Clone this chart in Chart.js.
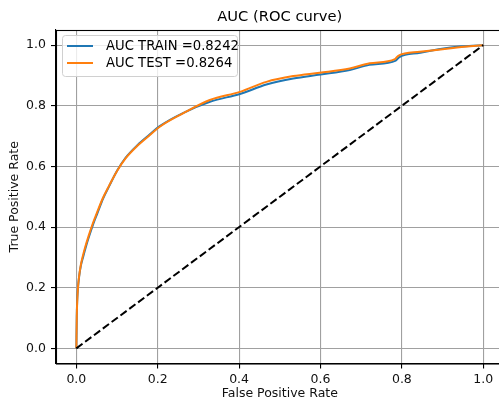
<!DOCTYPE html>
<html>
<head>
<meta charset="utf-8">
<script src="https://cdn.jsdelivr.net/npm/chart.js@4"></script>
<style>
  html, body { margin: 0; padding: 0; background: #fff; overflow: hidden; }
  #wrap { position: relative; width: 506px; height: 402px; }
</style>
</head>
<body>
<div id="wrap"><canvas id="roc"></canvas></div>
<script>
// values
const chartTitle = 'AUC (ROC curve)';
const trainLabel = 'AUC TRAIN =0.8242';
const testLabel = 'AUC TEST =0.8264';

const fprTrain = [0, 0.001, 0.002, 0.004, 0.007, 0.011, 0.017, 0.023, 0.031, 0.041, 0.051, 0.066, 0.081, 0.100, 0.120, 0.150, 0.180, 0.205, 0.262, 0.330, 0.402, 0.467, 0.533, 0.600, 0.672, 0.720, 0.785, 0.793, 0.845, 0.920, 1.0];
const tprTrain = [0, 0.105, 0.155, 0.200, 0.238, 0.272, 0.303, 0.333, 0.368, 0.408, 0.443, 0.495, 0.536, 0.586, 0.627, 0.670, 0.705, 0.733, 0.776, 0.814, 0.839, 0.870, 0.890, 0.903, 0.918, 0.935, 0.949, 0.960, 0.975, 0.992, 1.0];

const fprTest = [0, 0.001, 0.002, 0.004, 0.007, 0.011, 0.016, 0.022, 0.030, 0.040, 0.050, 0.065, 0.080, 0.100, 0.120, 0.150, 0.180, 0.205, 0.262, 0.328, 0.402, 0.467, 0.533, 0.598, 0.672, 0.721, 0.783, 0.791, 0.844, 0.926, 1.0];
const tprTest = [0, 0.100, 0.150, 0.200, 0.240, 0.275, 0.305, 0.335, 0.370, 0.410, 0.445, 0.495, 0.535, 0.585, 0.625, 0.668, 0.703, 0.731, 0.775, 0.819, 0.846, 0.879, 0.898, 0.909, 0.923, 0.940, 0.954, 0.965, 0.978, 0.991, 1.0];

const chanceX = [0, 1];
const chanceY = [0, 1];

const tickValues = [0, 0.2, 0.4, 0.6, 0.8, 1.0];

const FONT = "'DejaVu Sans', sans-serif";
const BLUE = '#1f77b4';
const ORANGE = '#ff7f0e';
const GRID = '#a0a0a0';

function toPoints(xs, ys) {
  return xs.map((x, i) => ({ x, y: ys[i] }));
}

function fixedTicks(scale) {
  scale.ticks = tickValues.map((v) => ({ value: v }));
}

// matplotlib-style frame, title centred on the axes, legend box inside
const frameAndLegend = {
  id: 'frameAndLegend',
  afterDraw(chart) {
    const { ctx, chartArea } = chart;
    ctx.save();
    ctx.strokeStyle = '#000';
    ctx.lineWidth = 1.1;
    ctx.strokeRect(chartArea.left + 0.5, chartArea.top + 0.5, chartArea.right - chartArea.left, chartArea.bottom - chartArea.top);

    ctx.font = `14.7px ${FONT}`;
    ctx.fillStyle = '#000';
    ctx.textAlign = 'center';
    ctx.textBaseline = 'middle';
    ctx.fillText(chartTitle, (chartArea.left + chartArea.right) / 2, 17);

    const bx = 62, by = 35, bw = 175, bh = 41;
    ctx.beginPath();
    ctx.roundRect(bx + 0.5, by + 0.5, bw, bh, 3);
    ctx.fillStyle = 'rgba(255,255,255,0.8)';
    ctx.fill();
    ctx.strokeStyle = '#d0d0d0';
    ctx.lineWidth = 1;
    ctx.stroke();

    const entries = [
      { label: trainLabel, color: BLUE, y: 46 },
      { label: testLabel, color: ORANGE, y: 63 },
    ];
    ctx.font = `13.2px ${FONT}`;
    ctx.textAlign = 'left';
    entries.forEach((e) => {
      ctx.beginPath();
      ctx.moveTo(67, e.y);
      ctx.lineTo(93, e.y);
      ctx.strokeStyle = e.color;
      ctx.lineWidth = 2;
      ctx.stroke();
      ctx.fillStyle = '#000';
      ctx.fillText(e.label, 106, e.y + 0.5);
    });
    ctx.restore();
  },
};

const lineStyle = {
  showLine: true,
  fill: false,
  pointRadius: 0,
  borderWidth: 2,
  cubicInterpolationMode: 'monotone',
};

const axisTicks = {
  color: '#111',
  font: { family: FONT, size: 12.5 },
  callback: (v) => Number(v).toFixed(1),
};

new Chart(document.getElementById('roc'), {
  type: 'scatter',
  data: {
    datasets: [
      { ...lineStyle, label: trainLabel, data: toPoints(fprTrain, tprTrain), borderColor: BLUE, backgroundColor: BLUE, order: 3 },
      { ...lineStyle, label: testLabel, data: toPoints(fprTest, tprTest), borderColor: ORANGE, backgroundColor: ORANGE, order: 2 },
      { ...lineStyle, label: 'chance', data: toPoints(chanceX, chanceY), borderColor: '#000', borderDash: [7.7, 3.3], cubicInterpolationMode: 'default', order: 1 },
    ],
  },
  options: {
    responsive: true,
    maintainAspectRatio: false,
    animation: false,
    layout: { padding: { top: 30, right: 2.4, bottom: 0, left: 0 } },
    plugins: {
      legend: { display: false },
      tooltip: { enabled: false },
      title: { display: false },
    },
    scales: {
      x: {
        type: 'linear',
        min: -0.05,
        max: 1.05,
        afterBuildTicks: fixedTicks,
        afterFit: (scale) => { scale.height = 38.5; },
        grid: { color: GRID, lineWidth: 1.1, tickLength: 5, tickColor: '#000', tickWidth: 1.1 },
        border: { display: true, color: '#000', width: 1.1 },
        ticks: { ...axisTicks, padding: 4 },
        title: {
          display: true,
          text: 'False Positive Rate',
          color: '#111',
          font: { family: FONT, size: 12.5 },
          padding: { top: 0, bottom: 0.5 },
        },
      },
      y: {
        type: 'linear',
        min: -0.05,
        max: 1.05,
        afterBuildTicks: fixedTicks,
        afterFit: (scale) => { scale.width = 56; },
        grid: { color: GRID, lineWidth: 1.1, tickLength: 5, tickColor: '#000', tickWidth: 1.1 },
        border: { display: true, color: '#000', width: 1.1 },
        ticks: { ...axisTicks, padding: 5 },
        title: {
          display: true,
          text: 'True Positive Rate',
          color: '#111',
          font: { family: FONT, size: 12.5 },
          padding: { top: 7.5, bottom: 0 },
        },
      },
    },
  },
  plugins: [frameAndLegend],
});
</script>
</body>
</html>
